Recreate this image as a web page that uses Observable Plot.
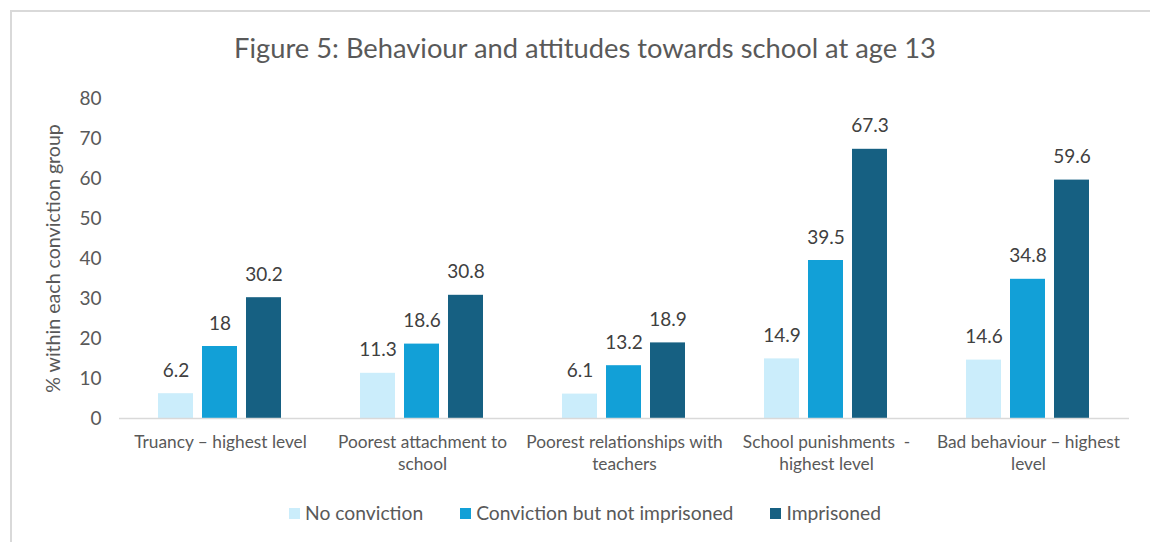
<!DOCTYPE html>
<html><head><meta charset="utf-8">
<script src="https://cdn.jsdelivr.net/npm/d3@7"></script>
<script src="https://cdn.jsdelivr.net/npm/@observablehq/plot@0.6"></script>
<style>
body{margin:0;background:#fff;font-family:Lato,"Open Sans",sans-serif;}
#wrap{position:relative;width:1150px;height:542px;overflow:hidden;}
#frame{position:absolute;left:10px;top:10px;width:1200px;height:600px;border-top:2px solid #d9d9d9;border-left:2px solid #d9d9d9;box-sizing:border-box;}
#title{position:absolute;left:0;width:1170px;top:31px;text-align:center;font-size:27.3px;color:#595959;line-height:34px;}
#chart{position:absolute;left:0;top:0;}
#legend{position:absolute;top:501px;left:0;width:1170px;display:flex;justify-content:center;gap:37px;font-size:19.3px;color:#595959;line-height:24px;}
#legend .item{display:flex;align-items:center;gap:5px;}
#legend .sw{width:11px;height:11px;display:inline-block;}
</style></head>
<body>
<div id="wrap">
<div id="frame"></div>
<div id="title">Figure 5: Behaviour and attitudes towards school at age 13</div>
<div id="chart"></div>
<div id="legend"></div>
</div>
<script>
const categories = [
  "Truancy – highest level",
  "Poorest attachment to school",
  "Poorest relationships with teachers",
  "School punishments  - highest level",
  "Bad behaviour – highest level"
];
const categoryLabels = [
  "Truancy – highest level",
  "Poorest attachment to\nschool",
  "Poorest relationships with\nteachers",
  "School punishments  -\nhighest level",
  "Bad behaviour – highest\nlevel"
];
const series = ["No conviction", "Conviction but not imprisoned", "Imprisoned"];
const noConviction = [6.2, 11.3, 6.1, 14.9, 14.6];
const convictionNotImprisoned = [18, 18.6, 13.2, 39.5, 34.8];
const imprisoned = [30.2, 30.8, 18.9, 67.3, 59.6];
const colors = ["#cbedfb", "#12a0d7", "#166082"];
const yTicks = [0, 10, 20, 30, 40, 50, 60, 70, 80];
const yLabel = "% within each conviction group";

const values = [noConviction, convictionNotImprisoned, imprisoned];
const data = [];
categories.forEach((c, i) => series.forEach((s, j) => data.push({category: c, series: s, value: values[j][i]})));
const labelOf = new Map(categories.map((c, i) => [c, categoryLabels[i]]));

const chart = Plot.plot({
  width: 1150, height: 480,
  marginLeft: 118, marginRight: 20, marginTop: 98, marginBottom: 62,
  style: {fontFamily: "Lato, 'Open Sans', sans-serif", fontSize: "16px", color: "#595959", background: "transparent"},
  fx: {domain: categories, padding: 0, axis: null, label: null},
  x: {domain: series, paddingInner: 0.2, paddingOuter: 0.849, axis: null},
  y: {domain: [0, 80]},
  color: {domain: series, range: colors},
  marks: [
    Plot.axisY({ticks: yTicks, tickSize: 0, tickPadding: 18, fontSize: 19, label: null}),
    Plot.axisY({ticks: [], tickSize: 0, fontSize: 19.6, label: yLabel, labelAnchor: "center", labelOffset: 73, labelArrow: "none"}),
    Plot.axisFx({anchor: "bottom", tickSize: 0, tickPadding: 14, fontSize: 17.3, lineHeight: 1.27, tickFormat: d => labelOf.get(d), label: null}),
    Plot.barY(data, {fx: "category", x: "series", y: "value", fill: "series"}),
    Plot.ruleY([0], {stroke: "#d9d9d9", strokeWidth: 1.5}),
    Plot.text(data, {fx: "category", x: "series", y: "value", text: d => String(d.value), dy: -23, fill: "#404040", fontSize: 19})
  ]
});
document.getElementById("chart").appendChild(chart);

const legend = document.getElementById("legend");
series.forEach((s, i) => {
  const item = document.createElement("div");
  item.className = "item";
  const sw = document.createElement("span");
  sw.className = "sw";
  sw.style.background = colors[i];
  const t = document.createElement("span");
  t.textContent = s;
  item.appendChild(sw); item.appendChild(t);
  legend.appendChild(item);
});
</script>
</body></html>
